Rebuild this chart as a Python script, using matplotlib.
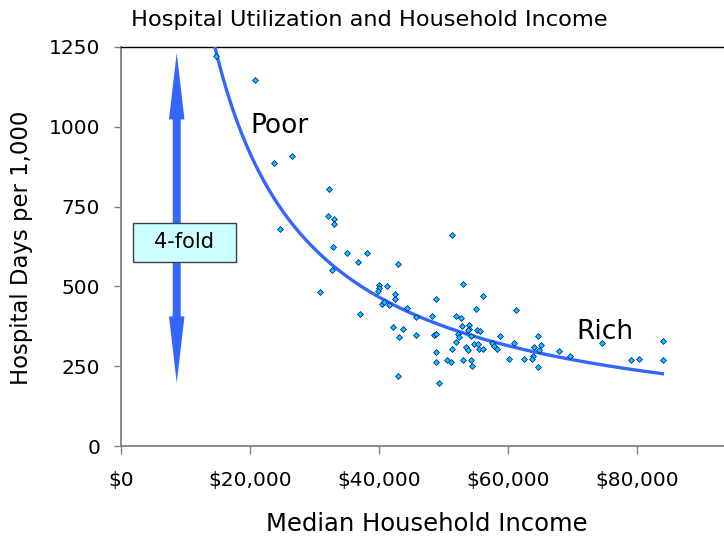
import numpy as np
import matplotlib
matplotlib.use("Agg")
import matplotlib.pyplot as plt
from matplotlib.patches import FancyArrow, Rectangle
from matplotlib.ticker import FuncFormatter

plt.rcParams['font.family'] = ['DejaVu Sans']

income = [14800, 20800, 26500, 23700, 32300, 24700, 32100, 33100, 33100, 32900,
          35000, 38100, 36700, 43000, 32700, 30800, 51300, 53000, 40000, 41200,
          40000, 39800, 42500, 42500, 48900, 40400, 40700, 41500, 37100, 44400,
          45700, 48200, 51900, 52700, 55100, 42200, 43700, 43100, 45800, 48600,
          48800, 52900, 54000, 54000, 53800, 52200, 52400, 51900, 55200, 54300,
          54800, 55400, 53500, 53800, 51300, 48800, 48800, 50600, 51100, 53000,
          54200, 54400, 43000, 49300, 61200, 55700, 58700, 57500, 61000, 64600,
          55500, 56100, 57800, 58300, 64000, 60100, 62500, 63800, 63700, 64600,
          56100, 65100, 64800, 67900, 69600, 74600, 84100, 79000, 80300, 84100]
days = [1222, 1147, 908, 887, 804, 681, 720, 711, 694, 624,
        606, 605, 575, 569, 551, 483, 662, 506, 503, 502,
        494, 487, 477, 459, 461, 446, 450, 443, 415, 432,
        405, 408, 408, 401, 428, 373, 365, 343, 347, 347,
        351, 376, 380, 368, 362, 350, 342, 326, 362, 345,
        319, 321, 310, 302, 303, 293, 263, 268, 263, 268,
        268, 251, 220, 196, 425, 360, 346, 324, 323, 346,
        304, 304, 312, 304, 310, 274, 274, 281, 272, 248,
        469, 315, 300, 299, 283, 322, 329, 269, 271, 269]

# power trendline y = a * x^b
trend_a = 1.432e7
trend_b = -0.975
trend_start = 14000
trend_end = 84200

x_ticks = [0, 20000, 40000, 60000, 80000]
y_ticks = [0, 250, 500, 750, 1000, 1250]

# arrow annotation (4-fold range)
arrow_x = 8640
arrow_top = 1232
arrow_bottom = 197

fig = plt.figure(figsize=(7.24, 5.39), dpi=100)
ax = fig.add_axes([121/724, 1-446/539, 1-121/724, (446-47)/539])

ax.set_xlim(0, 93490)
ax.set_ylim(0, 1250)

# trendline
tx = np.linspace(trend_start, trend_end, 300)
ty = trend_a * tx ** trend_b
ax.plot(tx, ty, color='#3366FF', lw=2.4, zorder=3, solid_capstyle='butt')

# scatter
ax.plot(income, days, linestyle='none', marker='D', ms=3.0,
        mfc='#00CCFF', mec='#000080', mew=0.5, zorder=4)

# double arrow
mid = (arrow_top + arrow_bottom) / 2
for end in (arrow_top, arrow_bottom):
    ax.add_patch(FancyArrow(arrow_x, mid, 0, end - mid, width=1240,
                            head_width=2400, head_length=209,
                            length_includes_head=True,
                            facecolor='#3366FF', edgecolor='none', zorder=5))

# 4-fold box
ax.add_patch(Rectangle((1810, 578), 16020, 121, facecolor='#CCFFFF',
                       edgecolor='#404040', lw=1.0, zorder=6))
ax.text(9800, 638, '4-fold', ha='center', va='center', fontsize=15,
        color='black', zorder=7)

ax.text(24570, 1004, 'Poor', ha='center', va='center', fontsize=19, zorder=7)
ax.text(75000, 358, 'Rich', ha='center', va='center', fontsize=19, zorder=7)

ax.set_xticks(x_ticks)
ax.set_yticks(y_ticks)
ax.xaxis.set_major_formatter(FuncFormatter(lambda v, p: f"${v:,.0f}"))
ax.yaxis.set_major_formatter(FuncFormatter(lambda v, p: f"{v:.0f}"))
ax.tick_params(axis='x', length=6, width=1, color='#808080', pad=12, labelsize=14.5)
ax.tick_params(axis='y', length=5, width=1, color='#808080', pad=10, labelsize=14.5)

for s in ('left', 'bottom'):
    ax.spines[s].set_color('#808080')
    ax.spines[s].set_linewidth(1.3)
ax.spines['right'].set_visible(False)
ax.spines['top'].set_color('black')
ax.spines['top'].set_linewidth(1.0)

ax.set_xlabel('Median Household Income', fontsize=17.5)
ax.xaxis.set_label_coords((427-121)/603, (446-524)/399)
ax.xaxis.label.set_va('center')
ax.set_ylabel('Hospital Days per 1,000', fontsize=16.4)
ax.yaxis.set_label_coords((22-121)/603, (446-247.5)/399)
ax.yaxis.label.set_va('center')

fig.text(369/724, 1-20/539, 'Hospital Utilization and Household Income',
         ha='center', va='center', fontsize=16.2)

fig.savefig('out.png', dpi=100)
